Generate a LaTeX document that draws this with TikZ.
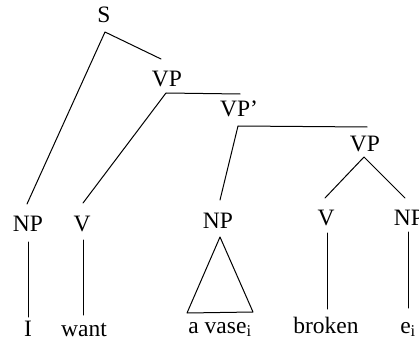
\documentclass[tikz,border=0pt]{standalone}
\usepackage{fontspec}
\setmainfont{Liberation Serif}
\begin{document}
\begin{tikzpicture}[x=1pt,y=-1pt,
  cat/.style={anchor=base,inner sep=0pt,font=\fontsize{23.5}{26}\selectfont},
  word/.style={anchor=base,inner sep=0pt,font=\fontsize{23.5}{26}\selectfont},
  branch/.style={line width=1pt,line cap=round,line join=round}]
\useasboundingbox (0,0) rectangle (419,347);
\fill[white] (0,0) rectangle (419,347);
\begin{scope}
\clip (0,0) rectangle (419,347);
% category labels
\node[cat] (s)   at (104,23)  {S};
\node[cat] (vp)  at (167,87)  {VP};
\node[cat] (vpp) at (239,117) {VP’};
\node[cat] (vpb) at (365,152) {VP};
\node[cat] (np1) at (28,231)  {NP};
\node[cat] (v1)  at (82,231)  {V};
\node[cat] (np2) at (218,228) {NP};
\node[cat] (v2)  at (326,225) {V};
\node[cat] (np3) at (409,225) {NP};
% words
\node[word] (w1) at (28,336)  {I};
\node[word] (w2) at (84,336)  {want};
\node[word] (w3) at (220,333) {a vase\textsubscript{i}};
\node[word] (w4) at (326,333) {broken};
\node[word] (w5) at (408,333) {e\textsubscript{i}};
% branching points and line ends
\coordinate (sA)   at (105,32);
\coordinate (sR)   at (161,59);
\coordinate (vpA)  at (166,93);
\coordinate (vpR)  at (240,94);
\coordinate (vppA) at (238,126);
\coordinate (vppR) at (367,127);
\coordinate (vpbA) at (364,157);
\coordinate (np1T) at (27,204);
\coordinate (v1T)  at (83,203);
\coordinate (np2T) at (220,200);
\coordinate (v2T)  at (325,198);
\coordinate (np3T) at (405,198);
% branches
\draw[branch] (np1T) -- (sA) -- (sR);
\draw[branch] (v1T) -- (vpA) -- (vpR);
\draw[branch] (np2T) -- (vppA) -- (vppR);
\draw[branch] (v2T) -- (vpbA) -- (np3T);
% unary lines down to the words
\coordinate (np1B) at (28,242); \coordinate (w1T) at (28,317);
\coordinate (v1B)  at (83,240); \coordinate (w2T) at (83,315);
\coordinate (v2B)  at (327,233); \coordinate (w4T) at (327,309);
\coordinate (np3B) at (408,232); \coordinate (w5T) at (408,308);
\draw[branch] (np1B) -- (w1T);
\draw[branch] (v1B) -- (w2T);
\draw[branch] (v2B) -- (w4T);
\draw[branch] (np3B) -- (w5T);
% triangle under the object NP
\coordinate (triA) at (220,237);
\coordinate (triL) at (187,313);
\coordinate (triR) at (253,312);
\draw[branch] (triA) -- (triL) -- (triR) -- cycle;
\end{scope}
\end{tikzpicture}
\end{document}
